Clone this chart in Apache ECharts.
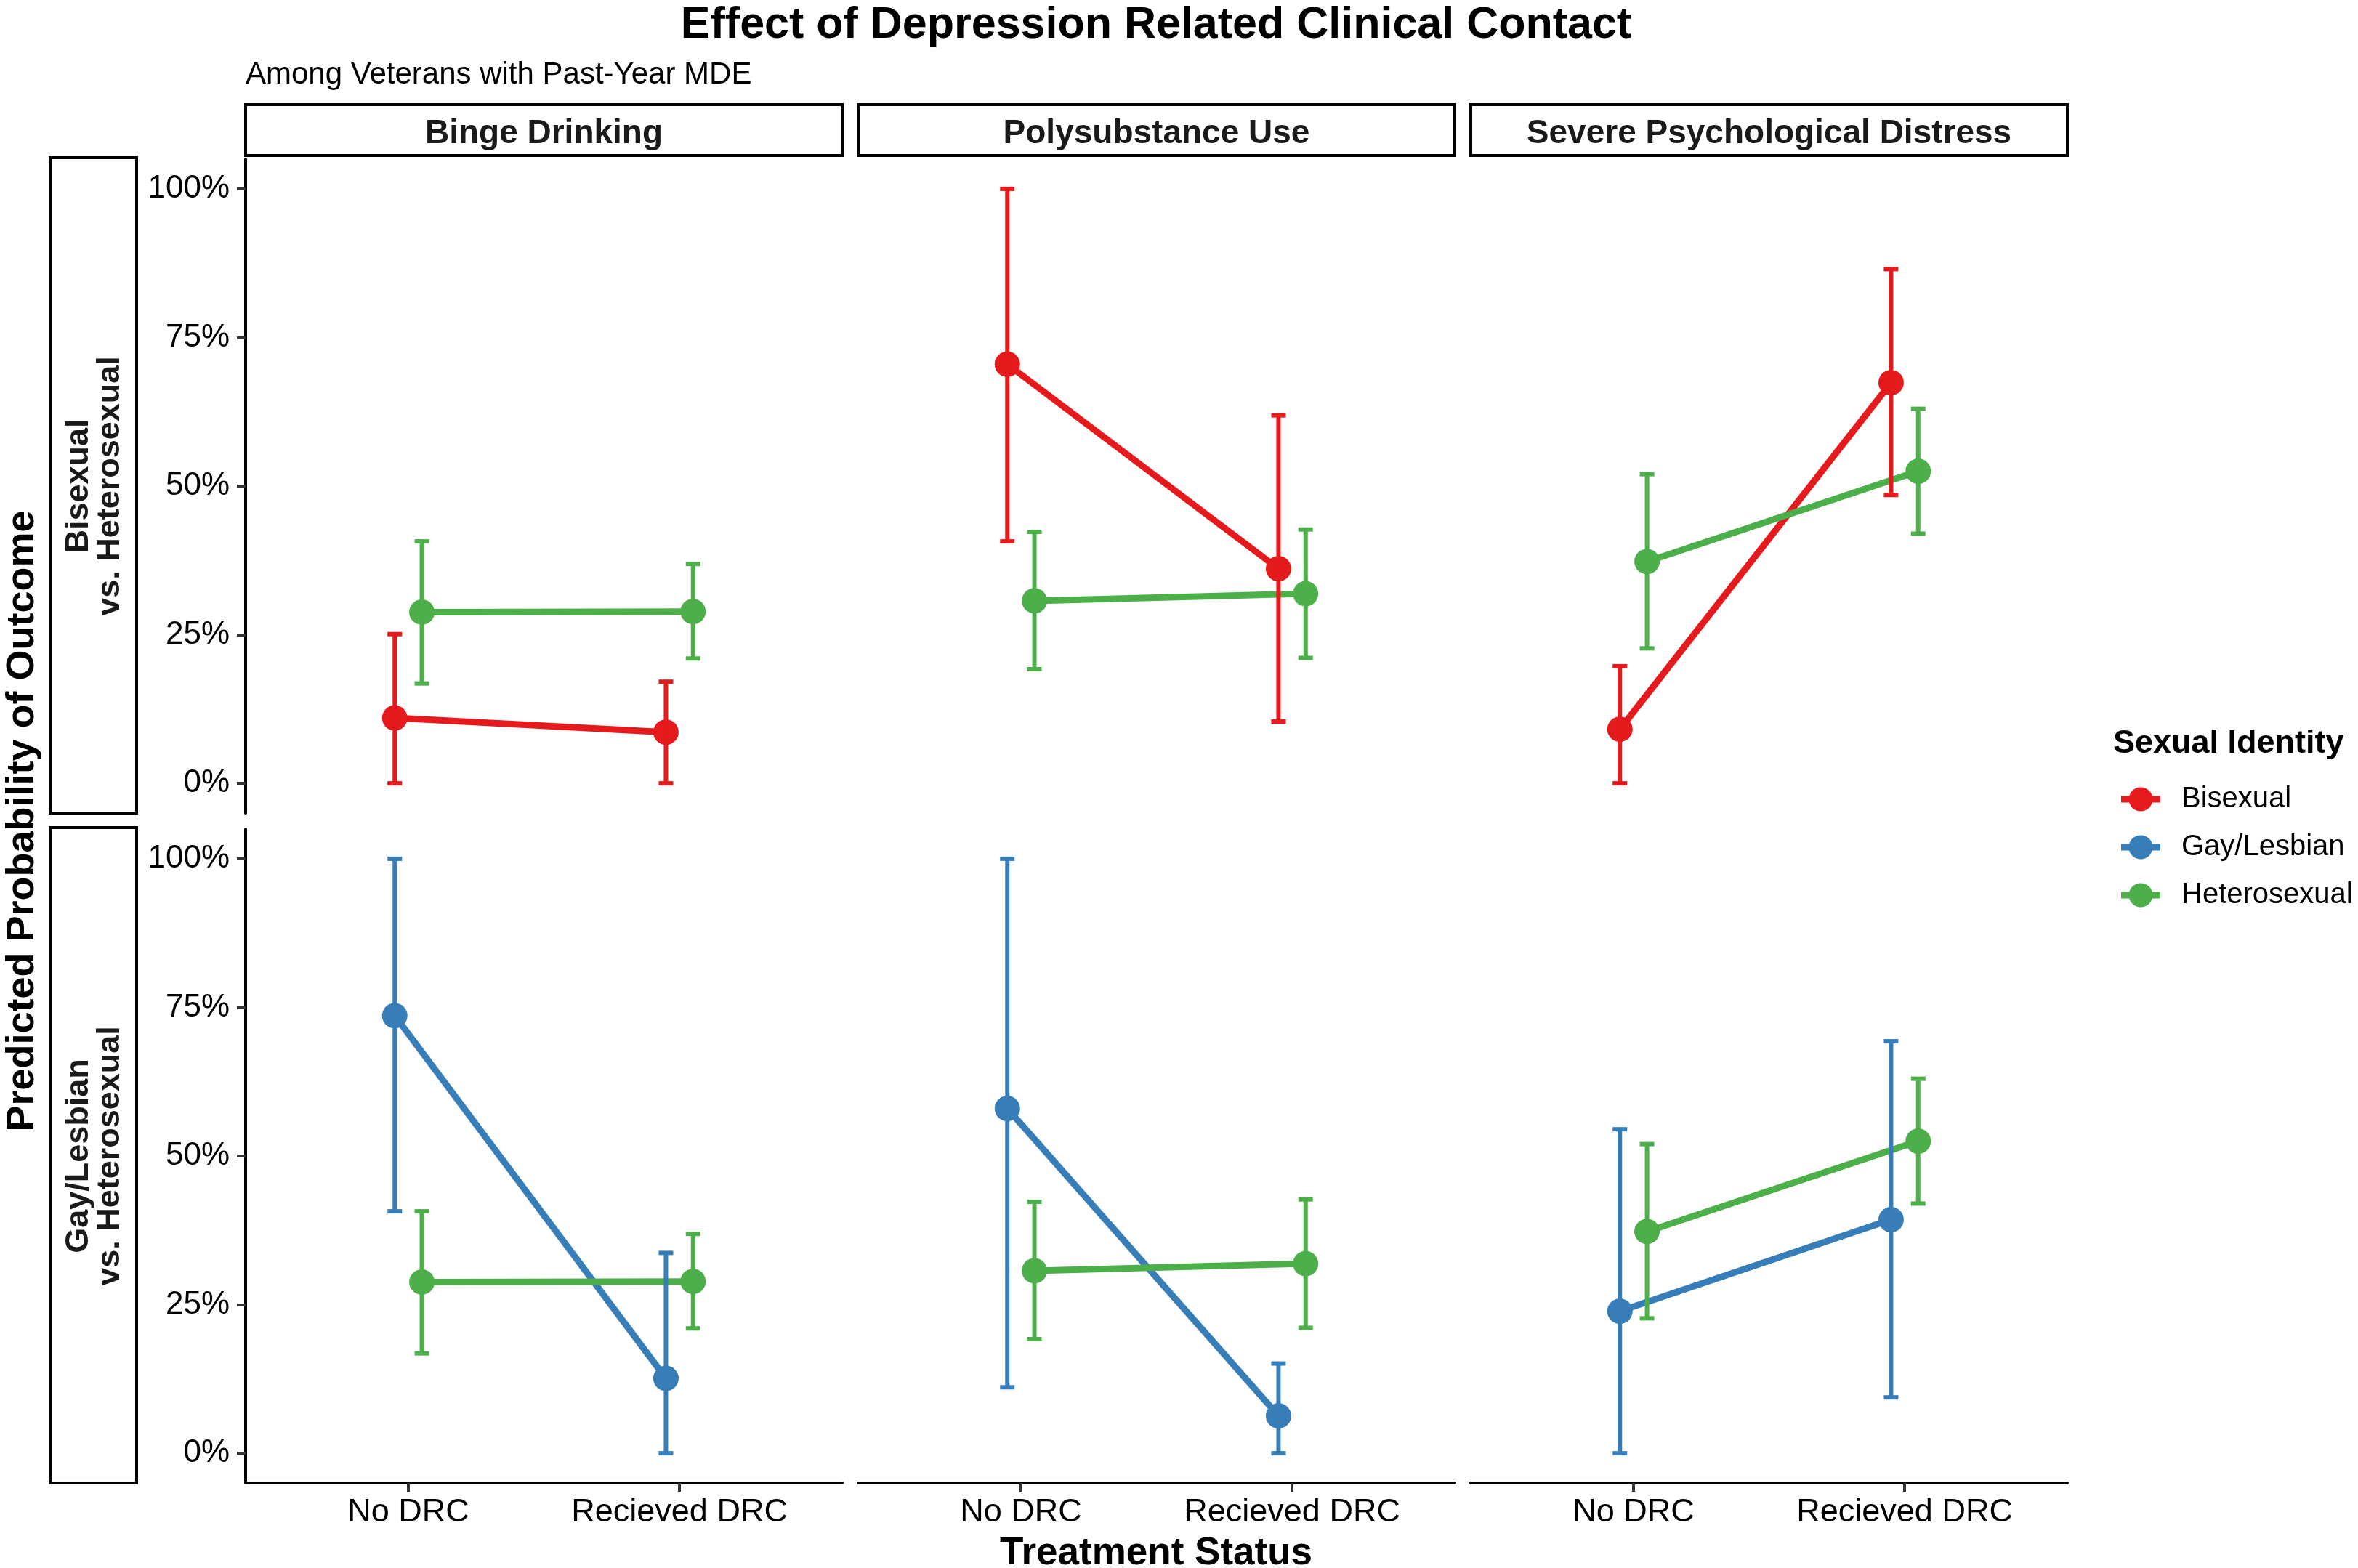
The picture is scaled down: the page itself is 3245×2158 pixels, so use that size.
<!DOCTYPE html>
<html>
<head>
<meta charset="utf-8">
<title>Effect of Depression Related Clinical Contact</title>
<script src="https://cdn.jsdelivr.net/npm/echarts@6/dist/echarts.min.js"></script>
<style>
html, body { margin: 0; padding: 0; background: #fff; }
#main { width: 3245px; height: 2158px; }
</style>
</head>
<body>
<div id="main"></div>
<script>
var categories = ['No DRC', 'Recieved DRC'];
var outcomes = ['Binge Drinking', 'Polysubstance Use', 'Severe Psychological Distress'];
var comparisons = ['Bisexual\nvs. Heterosexual', 'Gay/Lesbian\nvs. Heterosexual'];
var groups = ['Bisexual', 'Gay/Lesbian', 'Heterosexual'];
var yTicks = [0, 25, 50, 75, 100];

// predicted probability (%) per outcome: [No DRC, Recieved DRC]
var bisexualEst  = [[11.0, 8.6], [70.5, 36.1], [9.1, 67.4]];
var bisexualLow  = [[0, 0], [40.7, 10.4], [0, 48.5]];
var bisexualHigh = [[25.1, 17.1], [100, 61.9], [19.7, 86.5]];

var gayEst  = [[73.6, 12.6], [58.0, 6.3], [23.9, 39.3]];
var gayLow  = [[40.7, 0], [11.1, 0], [0, 9.4]];
var gayHigh = [[100, 33.7], [100, 15.1], [54.5, 69.3]];

var heteroEst  = [[28.8, 28.9], [30.7, 31.9], [37.3, 52.5]];
var heteroLow  = [[16.8, 21.0], [19.2, 21.1], [22.7, 42.0]];
var heteroHigh = [[40.7, 36.9], [42.3, 42.7], [52.0, 63.0]];

var colors = { 'Bisexual': '#E41A1C', 'Gay/Lesbian': '#377EB8', 'Heterosexual': '#4DAF4A' };
var FONT = "'Liberation Sans', Arial, sans-serif";

// layout (px)
var colLeft = [338, 1181, 2024];
var panelW = 821;
var rowTop = [219, 1141];
var panelH = 900;
var dodge = 0.05;

// legend key: thick line with a dot in the middle
var keyIcon = 'path://M0,12.5H54V21.5H0Z M43.5,17A16.5,16.5 0 1 1 10.5,17A16.5,16.5 0 1 1 43.5,17Z';

// which groups appear in each row
var rowGroups = [
    [{ name: 'Bisexual', est: bisexualEst, low: bisexualLow, high: bisexualHigh, off: -dodge },
     { name: 'Heterosexual', est: heteroEst, low: heteroLow, high: heteroHigh, off: dodge }],
    [{ name: 'Gay/Lesbian', est: gayEst, low: gayLow, high: gayHigh, off: -dodge },
     { name: 'Heterosexual', est: heteroEst, low: heteroLow, high: heteroHigh, off: dodge }]
];

var grids = [], xAxes = [], yAxes = [], series = [], graphics = [];

function errorBarRender(color) {
    return function (params, api) {
        var x = api.value(0);
        var lo = api.coord([x, api.value(1)]);
        var hi = api.coord([x, api.value(2)]);
        var hw = 10;
        var st = { stroke: color, lineWidth: 6 };
        return {
            type: 'group',
            children: [
                { type: 'line', shape: { x1: lo[0], y1: lo[1], x2: hi[0], y2: hi[1] }, style: st },
                { type: 'line', shape: { x1: lo[0] - hw, y1: lo[1], x2: lo[0] + hw, y2: lo[1] }, style: st },
                { type: 'line', shape: { x1: hi[0] - hw, y1: hi[1], x2: hi[0] + hw, y2: hi[1] }, style: st }
            ]
        };
    };
}

for (var r = 0; r < 2; r++) {
    for (var c = 0; c < 3; c++) {
        var p = r * 3 + c;
        grids.push({ left: colLeft[c], top: rowTop[r], width: panelW, height: panelH });
        xAxes.push({
            type: 'value', gridIndex: p, min: 0.4, max: 2.6,
            splitLine: { show: false },
            axisLine: { show: r === 1, onZero: false, lineStyle: { color: '#000', width: 4 } },
            axisTick: { show: r === 1, customValues: [1, 2], length: 12, lineStyle: { color: '#333', width: 4 } },
            axisLabel: {
                show: r === 1, customValues: [1, 2], margin: 18,
                fontSize: 45, fontFamily: FONT, color: '#000',
                formatter: function (v) { return categories[Math.round(v) - 1]; }
            }
        });
        yAxes.push({
            type: 'value', gridIndex: p, min: -5, max: 105,
            splitLine: { show: false },
            axisLine: { show: c === 0, onZero: false, lineStyle: { color: '#000', width: 4 } },
            axisTick: { show: c === 0, customValues: yTicks, length: 12, lineStyle: { color: '#333', width: 4 } },
            axisLabel: {
                show: c === 0, customValues: yTicks, margin: 22, padding: [8, 0, 0, 0],
                fontSize: 44, fontFamily: FONT, color: '#000',
                formatter: '{value}%'
            }
        });

        rowGroups[r].forEach(function (g) {
            var lineData = [], barData = [];
            for (var k = 0; k < categories.length; k++) {
                lineData.push([k + 1 + g.off, g.est[c][k]]);
                barData.push([k + 1 + g.off, g.low[c][k], g.high[c][k]]);
            }
            series.push({
                type: 'line', name: g.name, xAxisIndex: p, yAxisIndex: p,
                data: lineData, symbol: 'circle', symbolSize: 35,
                lineStyle: { width: 9, color: colors[g.name] },
                itemStyle: { color: colors[g.name] },
                z: 2, animation: false
            });
            series.push({
                type: 'custom', name: g.name + ' CI', xAxisIndex: p, yAxisIndex: p,
                data: barData, encode: { x: 0, y: [1, 2] },
                renderItem: errorBarRender(colors[g.name]),
                z: 3, animation: false
            });
        });
    }
}

// facet strips on top
outcomes.forEach(function (name, c) {
    graphics.push({
        type: 'rect', shape: { x: colLeft[c], y: 144, width: panelW, height: 70 },
        style: { fill: '#fff', stroke: '#000', lineWidth: 4 }
    });
    graphics.push({
        type: 'text', x: colLeft[c] + panelW / 2, y: 184,
        style: { text: name, fontSize: 46, fontWeight: 'bold', fontFamily: FONT, fill: '#1a1a1a',
                 align: 'center', verticalAlign: 'middle', textAlign: 'center', textVerticalAlign: 'middle' }
    });
});

// facet strips on the left
comparisons.forEach(function (name, r) {
    graphics.push({
        type: 'rect', shape: { x: 69, y: rowTop[r] - 2, width: 119, height: panelH + 2 },
        style: { fill: '#fff', stroke: '#000', lineWidth: 4 }
    });
    graphics.push({
        type: 'text', x: 130, y: rowTop[r] + panelH / 2, rotation: Math.PI / 2,
        style: { text: name, fontSize: 45, fontWeight: 'bold', fontFamily: FONT, fill: '#1a1a1a', lineHeight: 43,
                 align: 'center', verticalAlign: 'middle', textAlign: 'center', textVerticalAlign: 'middle' }
    });
});

// titles
graphics.push({
    type: 'text', x: 1591, y: 35,
    style: { text: 'Effect of Depression Related Clinical Contact', fontSize: 61, fontWeight: 'bold', fontFamily: FONT, fill: '#000',
             align: 'center', verticalAlign: 'middle', textAlign: 'center', textVerticalAlign: 'middle' }
});
graphics.push({
    type: 'text', x: 338, y: 103,
    style: { text: 'Among Veterans with Past-Year MDE', fontSize: 42, fontFamily: FONT, fill: '#000',
             align: 'left', verticalAlign: 'middle', textAlign: 'left', textVerticalAlign: 'middle' }
});
graphics.push({
    type: 'text', x: 1591, y: 2138,
    style: { text: 'Treatment Status', fontSize: 53, fontWeight: 'bold', fontFamily: FONT, fill: '#000',
             align: 'center', verticalAlign: 'middle', textAlign: 'center', textVerticalAlign: 'middle' }
});
graphics.push({
    type: 'text', x: 31, y: 1130, rotation: Math.PI / 2,
    style: { text: 'Predicted Probability of Outcome', fontSize: 54, fontWeight: 'bold', fontFamily: FONT, fill: '#000',
             align: 'center', verticalAlign: 'middle', textAlign: 'center', textVerticalAlign: 'middle' }
});
graphics.push({
    type: 'text', x: 2908, y: 1024,
    style: { text: 'Sexual Identity', fontSize: 45, fontWeight: 'bold', fontFamily: FONT, fill: '#000',
             align: 'left', verticalAlign: 'middle', textAlign: 'left', textVerticalAlign: 'middle' }
});

var myChart = echarts.init(document.getElementById('main'));
var option = {
    backgroundColor: '#fff',
    animation: false,
    grid: grids,
    xAxis: xAxes,
    yAxis: yAxes,
    legend: {
        data: groups.map(function (g) { return { name: g, icon: keyIcon }; }),
        orient: 'vertical', left: 2914, top: 1075,
        itemWidth: 54, itemHeight: 33, itemGap: 26,
        textStyle: { fontSize: 40, lineHeight: 40, fontFamily: FONT, color: '#000', padding: [0, 0, 0, 24] }
    },
    graphic: graphics,
    series: series
};
myChart.setOption(option);
</script>
</body>
</html>
